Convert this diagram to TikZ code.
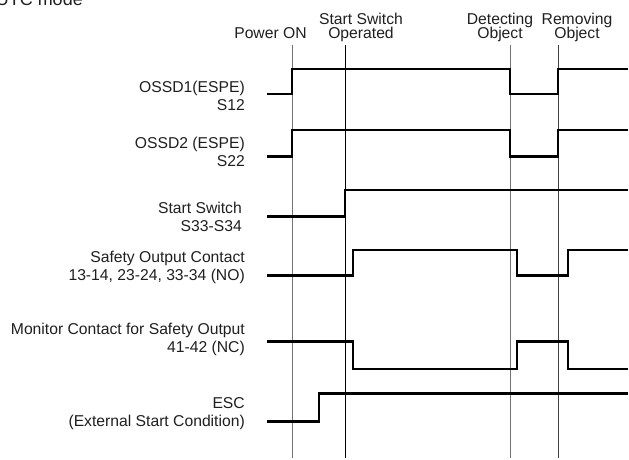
\documentclass[tikz,border=0pt]{standalone}
\usepackage{fontspec}
\setmainfont{Liberation Sans}
\begin{document}
\begin{tikzpicture}[x=1pt,y=-1pt,
  lbl/.style={font=\fontsize{15.7}{18}\selectfont, align=right, inner sep=0pt, anchor=base east, text=black!88},
  hdr/.style={font=\fontsize{15.7}{14.8}\selectfont, align=center, inner sep=0pt, anchor=base, text=black!88},
  ttl/.style={font=\fontsize{18}{20}\selectfont, inner sep=0pt, anchor=base east, text=black!88},
  sig/.style={line width=2.6pt, line join=miter, black},
  eventline/.style={line width=0.9pt}
]
\useasboundingbox (0,0) rectangle (629,459);
\begin{scope}
\clip (0,0) rectangle (629,459);
\node[ttl] (title) at (83,5) {UTC mode};
\end{scope}

% header labels (base = last line)
\node[hdr] (hpower) at (270.5,38.5) {Power ON};
\node[hdr] (hstart) at (361,38.8) {Start Switch\\Operated};
\node[hdr] (hdetect) at (500,38.8) {Detecting\\Object};
\node[hdr] (hremove) at (577,38.8) {Removing\\Object};

% event lines
\coordinate (pT) at (292,45);  \coordinate (pB) at (292,458);
\coordinate (sT) at (345,45);  \coordinate (sB) at (345,458);
\coordinate (dT) at (510,45);  \coordinate (dB) at (510,458);
\coordinate (rT) at (558,45);  \coordinate (rB) at (558,458);
\draw[eventline, black!55] (pT) -- (pB);
\draw[eventline, black] (sT) -- (sB);
\draw[eventline, black!55] (dT) -- (dB);
\draw[eventline, black!75] (rT) -- (rB);

% signal labels (base = last line)
\node[lbl] (l1) at (245,110.3) {OSSD1(ESPE)\\S12};
\node[lbl] (l2) at (245,166.7) {OSSD2 (ESPE)\\S22};
\node[lbl] (l3) at (242,231) {Start Switch\\S33-S34};
\node[lbl] (l4) at (245,280) {Safety Output Contact\\13-14, 23-24, 33-34 (NO)};
\node[lbl] (l5) at (245,352.7) {Monitor Contact for Safety Output\\41-42 (NC)};
\node[lbl] (l6) at (245,426.3) {ESC\\(External Start Condition)};

% signals
\draw[sig] (267,94) -- (292,94) -- (292,69) -- (510,69) -- (510,94) -- (558,94) -- (558,69) -- (628,69);
\draw[sig] (267,156.7) -- (292,156.7) -- (292,130) -- (510,130) -- (510,156.7) -- (558,156.7) -- (558,130) -- (628,130);
\draw[sig] (267,216.7) -- (345,216.7) -- (345,190) -- (628,190);
\draw[sig] (267,275.7) -- (353,275.7) -- (353,250) -- (517,250) -- (517,275.7) -- (568,275.7) -- (568,250) -- (628,250);
\draw[sig] (267,341.7) -- (353,341.7) -- (353,369) -- (517,369) -- (517,341.7) -- (568,341.7) -- (568,369) -- (628,369);
\draw[sig] (267,421.5) -- (319,421.5) -- (319,393.3) -- (628,393.3);
\end{tikzpicture}
\end{document}
